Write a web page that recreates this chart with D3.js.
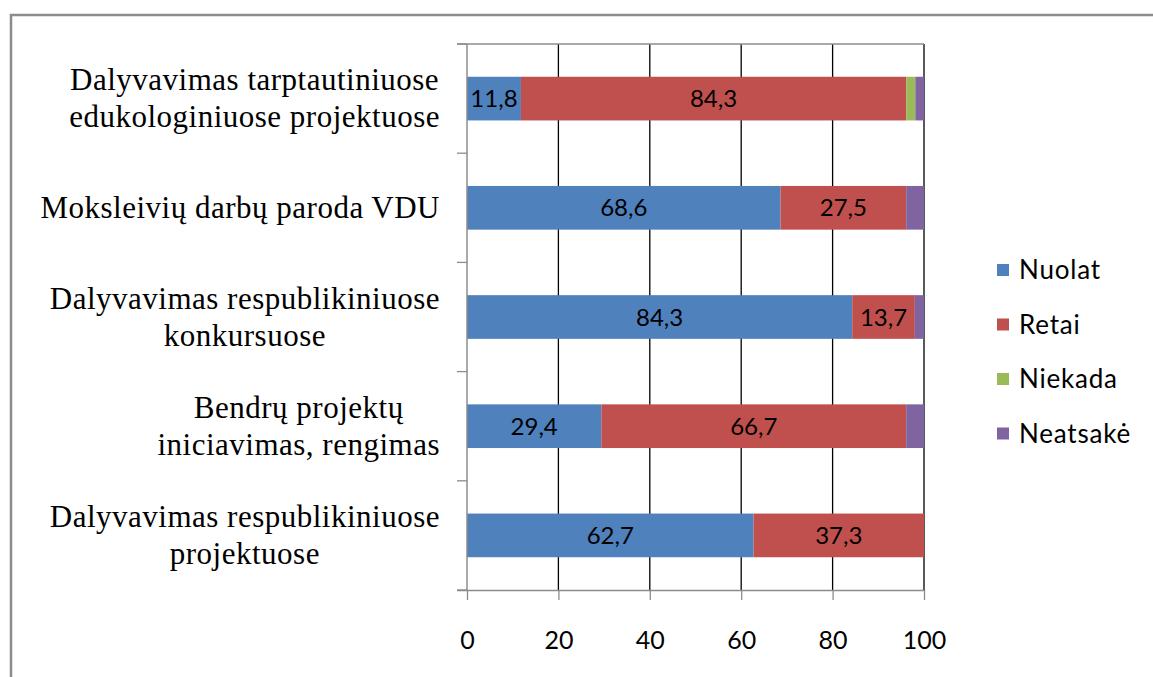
<!DOCTYPE html>
<html>
<head>
<meta charset="utf-8">
<script src="https://cdn.jsdelivr.net/npm/d3@7"></script>
<style>
  body { margin: 0; background: #fff; }
</style>
</head>
<body>
<div id="chart"></div>
<script>
// Data
const categories = [
    ["Dalyvavimas tarptautiniuose", "edukologiniuose projektuose"],
    ["Moksleivių darbų paroda VDU"],
    ["Dalyvavimas respublikiniuose", "konkursuose"],
    ["Bendrų projektų", "iniciavimas, rengimas"],
    ["Dalyvavimas respublikiniuose", "projektuose"]
];
const seriesNames = ["Nuolat", "Retai", "Niekada", "Neatsakė"];
const nuolat = [11.8, 68.6, 84.3, 29.4, 62.7];
const retai = [84.3, 27.5, 13.7, 66.7, 37.3];
const niekada = [2.0, 0, 0, 0, 0];
const neatsake = [1.9, 3.9, 2.0, 3.9, 0];
const xTicks = [0, 20, 40, 60, 80, 100];
const colors = ["#4F81BD", "#C0504D", "#9BBB59", "#8064A2"];

function drawChart() {
    const W = 1153, H = 677;
    const plot = { left: 467, right: 924, top: 44, bottom: 590 };

    const svg = d3.select("#chart")
        .append("svg")
        .attr("width", W)
        .attr("height", H);

    // outer frame (cut off at the right and bottom)
    svg.append("path")
        .attr("d", `M11,${H + 5} L11,15 L${W + 5},15`)
        .attr("fill", "none")
        .attr("stroke", "#8c8c8c")
        .attr("stroke-width", 2.5);

    // table for stacking
    const keys = categories.map((c, i) => "c" + i);
    const rows = categories.map((c, i) => ({
        id: keys[i],
        lines: c,
        Nuolat: nuolat[i],
        Retai: retai[i],
        Niekada: niekada[i],
        "Neatsakė": neatsake[i]
    }));

    const x = d3.scaleLinear()
        .domain([0, 100])
        .range([plot.left, plot.right]);

    const y = d3.scaleBand()
        .domain(keys)
        .range([plot.top, plot.bottom])
        .paddingInner(0.6)
        .paddingOuter(0.3);

    const color = d3.scaleOrdinal()
        .domain(seriesNames)
        .range(colors);

    // vertical gridlines
    svg.append("g")
        .selectAll("line")
        .data(xTicks.filter(d => d > 0))
        .enter()
        .append("line")
        .attr("x1", d => x(d))
        .attr("x2", d => x(d))
        .attr("y1", plot.top)
        .attr("y2", plot.bottom)
        .attr("stroke", "#000")
        .attr("stroke-width", 1.3);

    // top border line of the plot area
    svg.append("line")
        .attr("x1", plot.left - 10)
        .attr("x2", plot.right)
        .attr("y1", plot.top)
        .attr("y2", plot.top)
        .attr("stroke", "#8c8c8c")
        .attr("stroke-width", 1.5);

    // stacked bars
    const stacked = d3.stack().keys(seriesNames)(rows);

    const layers = svg.append("g")
        .selectAll("g")
        .data(stacked)
        .enter()
        .append("g")
        .attr("fill", d => color(d.key));

    layers.selectAll("rect")
        .data(d => d)
        .enter()
        .append("rect")
        .attr("x", d => x(d[0]))
        .attr("y", d => y(d.data.id))
        .attr("width", d => Math.max(0, x(d[1]) - x(d[0])))
        .attr("height", y.bandwidth());

    // value labels (Nuolat and Retai only)
    const fmt = v => d3.format(".1f")(v).replace(".", ",");
    svg.append("g")
        .selectAll("text")
        .data(stacked.filter(s => s.key === "Nuolat" || s.key === "Retai")
            .flatMap(s => s.map(v => ({ v: v, key: s.key }))))
        .enter()
        .append("text")
        .attr("x", d => (x(d.v[0]) + x(d.v[1])) / 2)
        .attr("y", d => y(d.v.data.id) + y.bandwidth() / 2)
        .attr("dy", "0.36em")
        .attr("text-anchor", "middle")
        .style("font-family", "Lato, 'Open Sans', sans-serif")
        .style("font-size", "24px")
        .style("fill", "#000")
        .text(d => fmt(d.v[1] - d.v[0]));

    // X axis
    const xAxis = svg.append("g")
        .attr("transform", "translate(0," + plot.bottom + ")")
        .call(d3.axisBottom(x).tickValues(xTicks).tickSize(10).tickPadding(31));
    xAxis.select(".domain")
        .attr("d", `M${plot.left - 10},0.5H${plot.right}`)
        .attr("stroke", "#8c8c8c")
        .attr("stroke-width", 1.5);
    xAxis.selectAll(".tick line").attr("stroke", "#8c8c8c").attr("stroke-width", 1.3);
    xAxis.selectAll(".tick text")
        .style("font-family", "Lato, 'Open Sans', sans-serif")
        .style("font-size", "25px")
        .style("fill", "#000");

    // Y axis line and category ticks
    svg.append("line")
        .attr("x1", plot.left)
        .attr("x2", plot.left)
        .attr("y1", plot.top)
        .attr("y2", plot.bottom)
        .attr("stroke", "#8c8c8c")
        .attr("stroke-width", 1.5);
    svg.append("g")
        .selectAll("line")
        .data(d3.range(keys.length + 1))
        .enter()
        .append("line")
        .attr("x1", plot.left - 10)
        .attr("x2", plot.left)
        .attr("y1", i => plot.top + i * y.step())
        .attr("y2", i => plot.top + i * y.step())
        .attr("stroke", "#8c8c8c")
        .attr("stroke-width", 1.3);

    // category labels, lines centred, block right aligned
    const lineH = 37;
    const labels = svg.append("g")
        .style("font-family", "'Liberation Serif', 'Times New Roman', serif")
        .style("font-size", "31px")
        .style("letter-spacing", "0.5px")
        .style("fill", "#000");

    rows.forEach(r => {
        const g = labels.append("g");
        const cy = y(r.id) + y.bandwidth() / 2;
        const texts = g.selectAll("text")
            .data(r.lines)
            .enter()
            .append("text")
            .attr("y", (d, i) => cy + (i - (r.lines.length - 1) / 2) * lineH)
            .attr("dy", "0.33em")
            .attr("text-anchor", "middle")
            .text(d => d);
        const maxW = d3.max(texts.nodes(), n => n.getComputedTextLength());
        texts.attr("x", 440 - maxW / 2);
    });

    // Legend
    const legend = svg.append("g")
        .selectAll("g")
        .data(seriesNames)
        .enter()
        .append("g")
        .attr("transform", (d, i) => "translate(997," + (270 + i * 54.5) + ")");

    legend.append("rect")
        .attr("x", 0)
        .attr("y", -6)
        .attr("width", 12)
        .attr("height", 12)
        .attr("fill", d => color(d));

    legend.append("text")
        .attr("x", 22)
        .attr("dy", "0.36em")
        .style("font-family", "Lato, 'Open Sans', sans-serif")
        .style("font-size", "26px")
        .style("letter-spacing", "0.8px")
        .style("fill", "#000")
        .text(d => d);
}

drawChart();
</script>
</body>
</html>
